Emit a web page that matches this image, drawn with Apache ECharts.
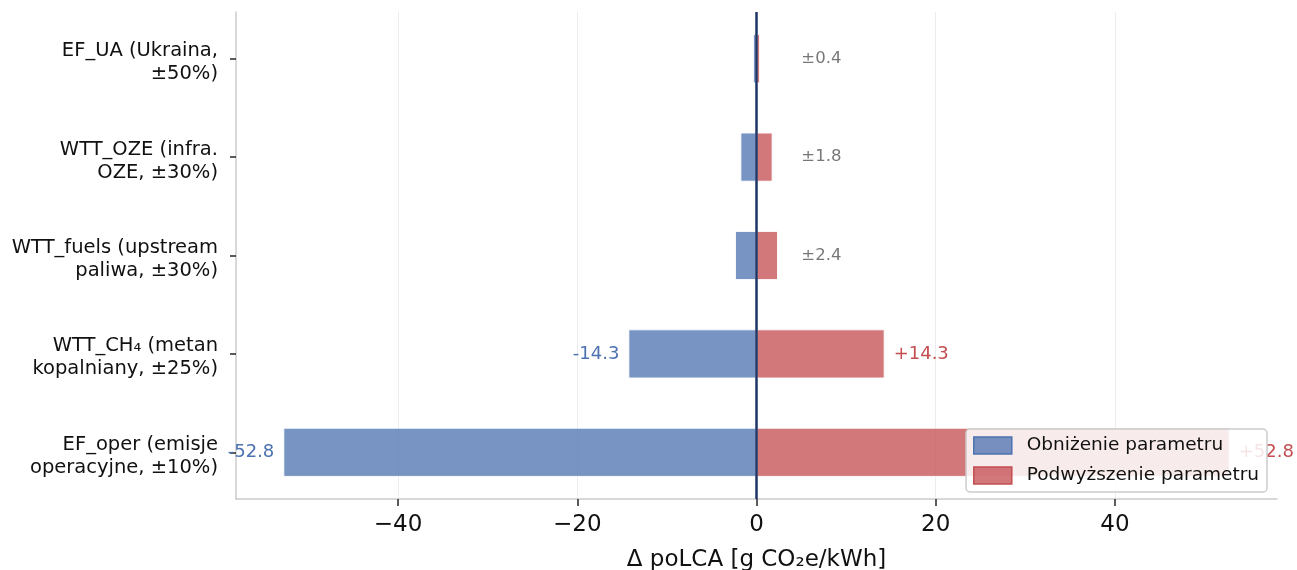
<!DOCTYPE html>
<html><head><meta charset="utf-8">
<script src="https://cdn.jsdelivr.net/npm/echarts@6/dist/echarts.min.js"></script>
<style>html,body{margin:0;padding:0;background:#fff}#c{width:1297px;height:570px}</style>
</head><body><div id="c"></div>
<script>
// ---- data ----
const categories = [
  'EF_UA (Ukraina,\n±50%)',
  'WTT_OZE (infra.\nOZE, ±30%)',
  'WTT_fuels (upstream\npaliwa, ±30%)',
  'WTT_CH₄ (metan\nkopalniany, ±25%)',
  'EF_oper (emisje\noperacyjne, ±10%)'
];
const deltas = [0.4, 1.8, 2.4, 14.3, 52.8];
const xTicks = [-40, -20, 0, 20, 40];
const seriesNames = ['Obniżenie parametru', 'Podwyższenie parametru'];
const xAxisTitle = 'Δ poLCA [g CO₂e/kWh]';

// ---- layout / style ----
const FONT = 'DejaVu Sans';
const TXT = '#111111';
const maxAbs = Math.max(...deltas);
const XMAX = maxAbs * 1.1;
const SMALL_LIMIT = 5;      // below this, a single ± label is shown
const SMALL_LABEL_X = 5;    // data x where ± label starts
const BLUE = '#4C72B0', RED = '#C44E52';
const BLUE_FILL = 'rgba(76,114,176,0.76)', RED_FILL = 'rgba(196,78,82,0.76)';
const LABEL_SHIFT = 4;      // matplotlib places multi-line tick labels slightly below the tick

const fmtTick = v => v < 0 ? '\u2212' + Math.abs(v) : String(v);

const negData = deltas.map(d => ({ value: -d, label: { show: d >= SMALL_LIMIT } }));
const posData = deltas.map(d => ({ value: d, label: { show: d >= SMALL_LIMIT } }));
const smallData = [];
deltas.forEach((d, i) => { if (d < SMALL_LIMIT) smallData.push([SMALL_LABEL_X, i, d]); });

const chart = echarts.init(document.getElementById('c'), null, { renderer: 'canvas' });
chart.setOption({
  animation: false,
  backgroundColor: '#ffffff',
  textStyle: { fontFamily: FONT },
  grid: [
    { left: 236, right: 20, top: 9.5, bottom: 68.5, outerBoundsMode: 'none', containLabel: false },
    { left: 236, right: 20, top: 12, bottom: 71, outerBoundsMode: 'none', containLabel: false },
    { left: 236, right: 20, top: 9.5 + LABEL_SHIFT, bottom: 68.5 - LABEL_SHIFT, outerBoundsMode: 'none', containLabel: false }
  ],
  xAxis: [
    { type: 'value', gridIndex: 0, min: -XMAX, max: XMAX, show: false, splitLine: { show: false } },
    {
      type: 'value', gridIndex: 1, min: -XMAX, max: XMAX,
      axisLine: { show: true, onZero: false, lineStyle: { color: '#cccccc', width: 1.5 } },
      axisTick: { show: true, customValues: xTicks, length: 7, lineStyle: { color: '#262626', width: 1.5 } },
      axisLabel: { customValues: xTicks, formatter: fmtTick, fontSize: 23, color: TXT, fontFamily: FONT, margin: 15 },
      splitLine: { show: false },
      name: xAxisTitle, nameLocation: 'middle', nameGap: 50,
      nameTextStyle: { fontSize: 23, color: TXT, fontFamily: FONT }
    },
    { type: 'value', gridIndex: 2, min: -XMAX, max: XMAX, show: false, splitLine: { show: false } }
  ],
  yAxis: [
    {
      type: 'category', gridIndex: 0, data: categories, inverse: true,
      axisLine: { show: false, onZero: false },
      axisTick: { show: true, alignWithLabel: true, length: 6, lineStyle: { color: '#262626', width: 1.5 } },
      axisLabel: { show: false }
    },
    {
      type: 'value', gridIndex: 1, min: 0, max: 1,
      axisLine: { show: true, onZero: false, lineStyle: { color: '#cccccc', width: 1.5 } },
      axisTick: { show: false }, axisLabel: { show: false }, splitLine: { show: false }
    },
    {
      type: 'category', gridIndex: 2, data: categories, inverse: true,
      axisLine: { show: false, onZero: false }, axisTick: { show: false },
      axisLabel: { fontSize: 19.5, lineHeight: 23, color: TXT, fontFamily: FONT, align: 'right', margin: 18 }
    }
  ],
  legend: {
    orient: 'vertical', right: 30, top: 429, z: 20,
    itemWidth: 38, itemHeight: 17, itemGap: 11,
    padding: [7, 8, 7, 7],
    backgroundColor: 'rgba(255,255,255,0.85)',
    borderColor: '#cccccc', borderWidth: 1.5, borderRadius: 4,
    textStyle: { fontSize: 18.5, color: TXT, fontFamily: FONT, padding: [0, 0, 0, 10] },
    data: [
      { name: seriesNames[0], icon: 'rect', itemStyle: { color: BLUE_FILL, borderColor: BLUE, borderWidth: 1.5 } },
      { name: seriesNames[1], icon: 'rect', itemStyle: { color: RED_FILL, borderColor: RED, borderWidth: 1.5 } }
    ]
  },
  series: [
    {
      type: 'line', xAxisIndex: 1, yAxisIndex: 1, data: [], silent: true, z: 0,
      markLine: {
        silent: true, symbol: 'none', z: 0, label: { show: false },
        lineStyle: { color: '#ececec', width: 1, type: 'solid' },
        data: xTicks.filter(v => v !== 0).map(v => ({ xAxis: v }))
      }
    },
    {
      name: seriesNames[0], type: 'bar', xAxisIndex: 0, yAxisIndex: 0,
      data: negData, barWidth: '50%', barGap: '-100%', z: 2,
      itemStyle: { color: BLUE_FILL, borderColor: 'rgba(255,255,255,0.9)', borderWidth: 1 },
      label: { position: 'left', distance: 9, fontSize: 18, color: BLUE, fontFamily: FONT,
               formatter: p => '-' + Math.abs(p.value).toFixed(1) }
    },
    {
      name: seriesNames[1], type: 'bar', xAxisIndex: 0, yAxisIndex: 0,
      data: posData, barWidth: '50%', barGap: '-100%', z: 2,
      itemStyle: { color: RED_FILL, borderColor: 'rgba(255,255,255,0.9)', borderWidth: 1 },
      label: { position: 'right', distance: 9, fontSize: 18, color: RED, fontFamily: FONT,
               formatter: p => '+' + p.value.toFixed(1) }
    },
    {
      type: 'scatter', xAxisIndex: 0, yAxisIndex: 0, data: smallData, symbolSize: 0, silent: true, z: 3,
      label: { show: true, position: 'right', distance: 0, fontSize: 16.5, color: '#555555', fontFamily: FONT,
               formatter: p => '±' + p.value[2].toFixed(1) }
    },
    {
      type: 'line', xAxisIndex: 1, yAxisIndex: 1, data: [], silent: true, z: 5,
      markLine: {
        silent: true, symbol: 'none', z: 6, label: { show: false },
        lineStyle: { color: '#1f3566', width: 2.5, type: 'solid' },
        data: [{ xAxis: 0 }]
      }
    }
  ]
});
</script>
</body></html>
